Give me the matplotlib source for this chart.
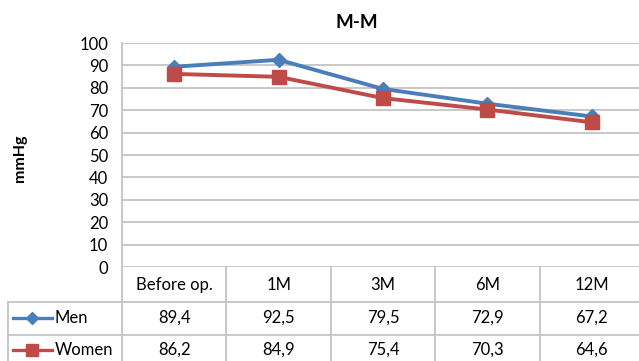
import matplotlib
matplotlib.use("Agg")
import matplotlib.pyplot as plt

categories = ["Before op.", "1M", "3M", "6M", "12M"]
men = [89.4, 92.5, 79.5, 72.9, 67.2]
women = [86.2, 84.9, 75.4, 70.3, 64.6]
series_names = ["Men", "Women"]
y_ticks = [0, 10, 20, 30, 40, 50, 60, 70, 80, 90, 100]
title = "M-M"
ylabel = "mmHg"

plt.rcParams['font.family'] = ['Lato', 'DejaVu Sans']

W, H = 639, 361
fig = plt.figure(figsize=(W / 100, H / 100), dpi=100)
fig.patch.set_facecolor('white')

grid_c = '#C4C4C4'
men_c = '#4A7EBB'
women_c = '#BE4B48'

ax = fig.add_axes([122 / W, (H - 267) / H, 522 / W, (267 - 43) / H])
xs = list(range(len(categories)))
ax.plot(xs, men, color=men_c, lw=2.8, marker='D', ms=7, zorder=3, clip_on=False)
ax.plot(xs, women, color=women_c, lw=2.8, marker='s', ms=10, zorder=3, clip_on=False)
ax.set_xlim(-0.5, len(categories) - 0.5)
ax.set_ylim(0, 100)
ax.set_yticks(y_ticks)
ax.set_xticks([])
ax.grid(axis='y', color=grid_c, lw=1.3)
ax.set_axisbelow(True)
for s in ['top', 'right', 'bottom']:
    ax.spines[s].set_visible(False)
ax.spines['left'].set_color(grid_c)
ax.spines['left'].set_linewidth(1.3)
ax.tick_params(axis='y', length=0, labelsize=12, pad=10, colors='#000000')

fig.text(20 / W, 1 - 158 / H, ylabel, rotation=90, ha='center', va='center',
         fontsize=11.5, fontweight='bold')
fig.text(357 / W, 1 - 22 / H, title, ha='center', va='center',
         fontsize=13.5, fontweight='bold')

# data table overlay in pixel coordinates
ov = fig.add_axes([0, 0, 1, 1], facecolor='none')
ov.set_xlim(0, W)
ov.set_ylim(0, H)
ov.axis('off')

edges = [ax.transData.transform((i - 0.5, 0))[0] for i in range(len(categories) + 1)]
centers = [ax.transData.transform((i, 0))[0] for i in range(len(categories))]

def Y(y):
    return H - y

left = 8
right_end = W + 10
ov.plot([left, right_end], [Y(302), Y(302)], color=grid_c, lw=1.3)
ov.plot([left, right_end], [Y(335), Y(335)], color=grid_c, lw=1.3)
for e in edges:
    ov.plot([e, e], [Y(267), Y(370)], color=grid_c, lw=1.3)
ov.plot([left, left], [Y(302), Y(370)], color=grid_c, lw=1.3)

fs = 12
for c, lab in zip(centers, categories):
    ov.text(c, Y(285), lab, ha='center', va='center', fontsize=fs)

rows = [(series_names[0], men, men_c, 'D', 6, 318),
        (series_names[1], women, women_c, 's', 9, 350)]
for name, vals, col, mk, ms, ypix in rows:
    yc = Y(ypix)
    ov.plot([13, 52], [yc, yc], color=col, lw=2.4)
    ov.plot([32], [yc], marker=mk, color=col, ms=ms)
    ov.text(55, yc, name, ha='left', va='center', fontsize=fs)
    for c, v in zip(centers, vals):
        ov.text(c, yc, f"{v:.1f}".replace('.', ','), ha='center', va='center', fontsize=fs)

fig.savefig('out.png', dpi=100)
